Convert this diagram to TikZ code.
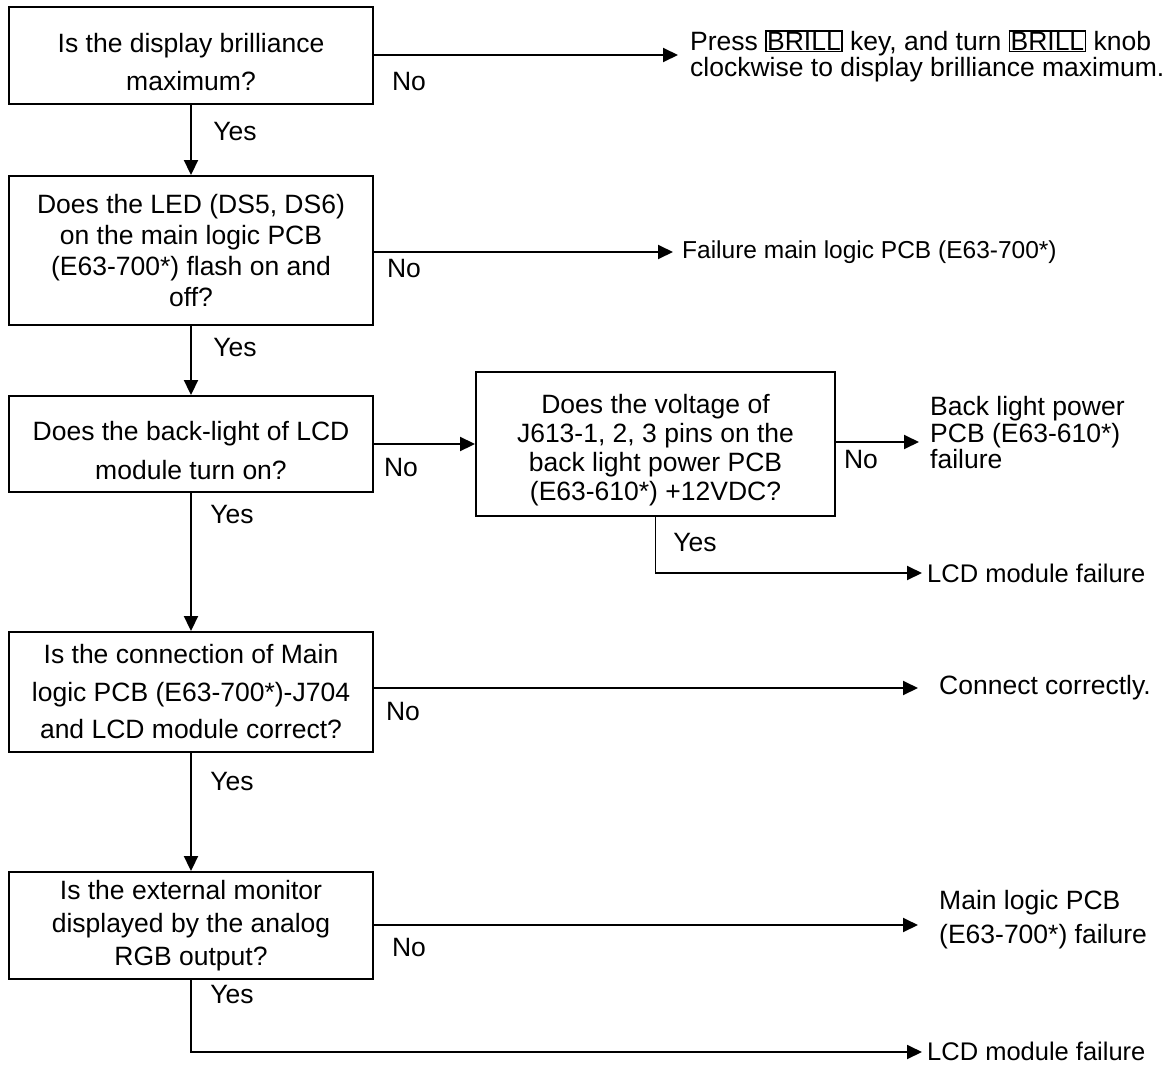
\documentclass[tikz,border=0pt]{standalone}
\usepackage{fontspec}
\setmainfont{Liberation Sans}
\usetikzlibrary{arrows.meta}
\setlength{\fboxsep}{0.6pt}
\setlength{\fboxrule}{1.3pt}
\newcommand{\topgap}{\rule{0pt}{32pt}}
\begin{document}
\begin{tikzpicture}[x=1pt,y=-1pt,
  box/.style={draw,line width=1.9pt,inner sep=0pt,align=center,minimum width=364pt},
  lbl/.style={inner sep=0pt,font=\fontsize{26.5}{30}\selectfont},
  res/.style={inner sep=0pt,anchor=west,align=left},
  arr/.style={line width=1.9pt,-{Triangle[length=15pt,width=14pt]}}]
\useasboundingbox (0,0) rectangle (1173,1065);

% decision boxes
\node[box,minimum height=97pt,font=\fontsize{26.5}{38}\selectfont] (b1) at (191,55.5)
  {\topgap Is the display brilliance\\maximum?};
\node[box,minimum height=149pt,font=\fontsize{26.5}{31}\selectfont] (b2) at (191,250.5)
  {Does the LED (DS5, DS6)\\on the main logic PCB\\(E63-700*) flash on and\\off?};
\node[box,minimum height=96pt,font=\fontsize{26.5}{39}\selectfont] (b3) at (191,444)
  {\topgap Does the back-light of LCD\\module turn on?};
\node[box,minimum width=359pt,minimum height=144pt,font=\fontsize{26.5}{29}\selectfont] (b4) at (655.5,444)
  {\topgap Does the voltage of\\J613-1, 2, 3 pins on the\\back light power PCB\\(E63-610*) +12VDC?};
\node[box,minimum height=120pt,font=\fontsize{26.5}{37.5}\selectfont] (b5) at (191,692)
  {Is the connection of Main\\logic PCB (E63-700*)-J704\\and LCD module correct?};
\node[box,minimum height=107pt,font=\fontsize{26.5}{33}\selectfont] (b6) at (191,925.5)
  {Is the external monitor\\displayed by the analog\\RGB output?};

% result texts
\node[res,font=\fontsize{26.5}{25.5}\selectfont] (t1) at (690,56)
  {Press \fbox{BRILL} key, and turn \fbox{BRILL} knob\\clockwise to display brilliance maximum.};
\node[res,font=\fontsize{24.5}{28}\selectfont] (t2) at (682,252)
  {Failure main logic PCB (E63-700*)};
\node[res,font=\fontsize{26.5}{26.5}\selectfont] (t3) at (930,433)
  {Back light power\\PCB (E63-610*)\\failure};
\node[res,font=\fontsize{25.5}{28}\selectfont] (t4) at (927,573)
  {LCD module failure};
\node[res,font=\fontsize{26.5}{28}\selectfont] (t5) at (939,688)
  {Connect correctly.};
\node[res,font=\fontsize{26.5}{34}\selectfont] (t6) at (939,920)
  {Main logic PCB\\(E63-700*) failure};
\node[res,font=\fontsize{25.5}{28}\selectfont] (t7) at (927,1051)
  {LCD module failure};

% arrow end points
\coordinate (e1) at (678,55);
\coordinate (e2) at (673,252);
\coordinate (e4) at (919,442);
\coordinate (e5) at (922,573);
\coordinate (e6) at (918,688);
\coordinate (e7) at (918,925);
\coordinate (e8) at (922,1052);

% connectors
\draw[arr] (b1.east |- e1) -- (e1);
\draw[arr] (b1) -- (b2);
\draw[arr] (b2.east |- e2) -- (e2);
\draw[arr] (b2) -- (b3);
\draw[arr] (b3) -- (b4);
\draw[arr] (b4.east |- e4) -- (e4);
\draw[arr] (b4.south) |- (e5);
\draw[arr] (b3) -- (b5);
\draw[arr] (b5.east |- e6) -- (e6);
\draw[arr] (b5) -- (b6);
\draw[arr] (b6.east |- e7) -- (e7);
\draw[arr] (b6.south) |- (e8);

% labels
\node[lbl] (n1) at (409,82) {No};
\node[lbl] (y1) at (235,132) {Yes};
\node[lbl] (n2) at (404,269) {No};
\node[lbl] (y2) at (235,348) {Yes};
\node[lbl] (n3) at (401,468) {No};
\node[lbl] (y3) at (232,515) {Yes};
\node[lbl] (n4) at (861,460) {No};
\node[lbl] (y4) at (695,543) {Yes};
\node[lbl] (n5) at (403,712) {No};
\node[lbl] (y5) at (232,782) {Yes};
\node[lbl] (n6) at (409,948) {No};
\node[lbl] (y6) at (232,995) {Yes};
\end{tikzpicture}
\end{document}
